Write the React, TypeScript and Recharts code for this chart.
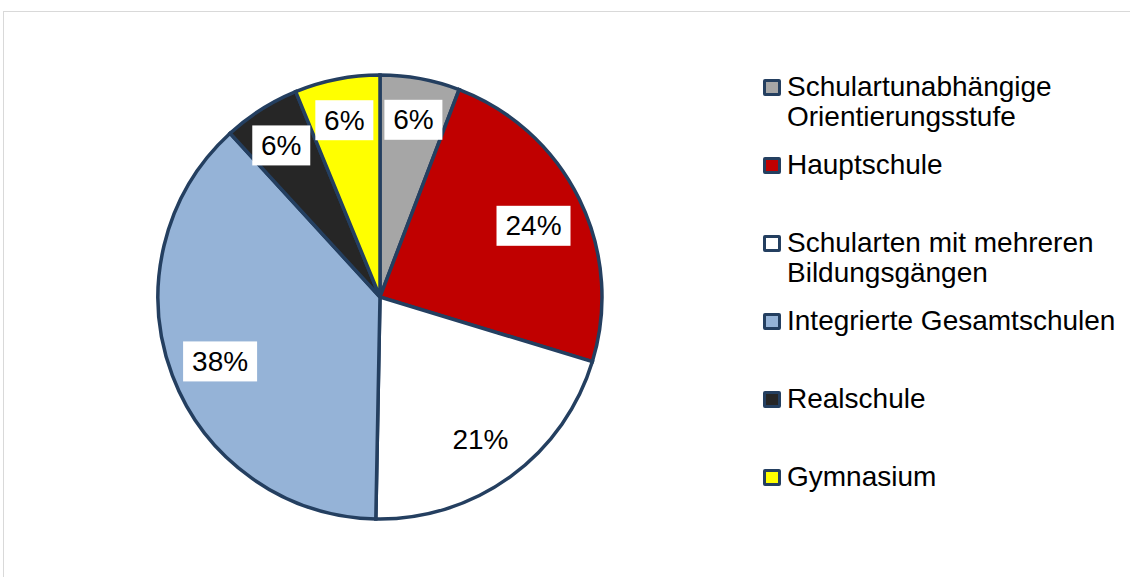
import { PieChart, Pie, Cell, Legend } from 'recharts'

const schoolTypes = [
  'Schulartunabhängige Orientierungsstufe',
  'Hauptschule',
  'Schularten mit mehreren Bildungsgängen',
  'Integrierte Gesamtschulen',
  'Realschule',
  'Gymnasium',
]
const shares = [5.8, 23.9, 20.6, 37.9, 5.6, 6.2]
const sliceColors = ['#a6a6a6', '#c00000', '#ffffff', '#95b3d7', '#262626', '#ffff00']

const data = schoolTypes.map((name, i) => ({ name, value: shares[i] }))

const RAD = Math.PI / 180
const outline = '#243f60'
const font = '"Liberation Sans", Arial, sans-serif'

function renderLabel(props: any) {
  const { cx, cy, midAngle, outerRadius, percent } = props
  const r = outerRadius * (percent < 0.1 ? 0.83 : 0.77)
  const x = cx + r * Math.cos(-midAngle * RAD)
  const y = cy + r * Math.sin(-midAngle * RAD) + 4
  const text = `${Math.round(percent * 100)}%`
  const w = text.length * 16 + 26
  return (
    <g>
      <rect x={x - w / 2} y={y - 20} width={w} height={40} fill="#ffffff" />
      <text
        x={x}
        y={y}
        textAnchor="middle"
        dominantBaseline="central"
        fill="#000000"
        fontSize={28}
        fontFamily={font}
      >
        {text}
      </text>
    </g>
  )
}

function LegendBox() {
  return (
    <div style={{ fontFamily: font, fontSize: 28, lineHeight: '30px', color: '#000' }}>
      {schoolTypes.map((name, i) => (
        <div key={name} style={{ display: 'flex', alignItems: 'flex-start', height: 78 }}>
          <span
            style={{
              display: 'inline-block',
              boxSizing: 'border-box',
              width: 18,
              height: 17,
              marginTop: 7,
              marginRight: 6,
              border: `3px solid ${outline}`,
              borderRadius: 2,
              background: sliceColors[i],
              flexShrink: 0,
            }}
          />
          <span style={{ width: 340 }}>{name}</span>
        </div>
      ))}
    </div>
  )
}

export default function App() {
  return (
    <div style={{ position: 'absolute', left: 0, top: 0, width: 1130, height: 577, background: '#fff' }}>
      <div
        style={{
          position: 'absolute',
          left: 3,
          top: 11,
          width: 1140,
          height: 580,
          borderTop: '1px solid #d9d9d9',
          borderLeft: '1px solid #d9d9d9',
        }}
      />
      <PieChart
        width={1130}
        height={577}
        margin={{ top: 0, right: 0, bottom: 0, left: 0 }}
        style={{ position: 'absolute', left: 0, top: 0 }}
      >
        <Pie
          data={data}
          dataKey="value"
          nameKey="name"
          cx={380}
          cy={297}
          outerRadius={222}
          startAngle={90}
          endAngle={-270}
          stroke={outline}
          strokeWidth={3.5}
          label={renderLabel}
          labelLine={false}
          isAnimationActive={false}
        >
          {data.map((_, i) => (
            <Cell key={i} fill={sliceColors[i]} />
          ))}
        </Pie>
        <Legend
          content={() => <LegendBox />}
          wrapperStyle={{ position: 'absolute', left: 763, top: 72, width: 365 }}
        />
      </PieChart>
    </div>
  )
}
